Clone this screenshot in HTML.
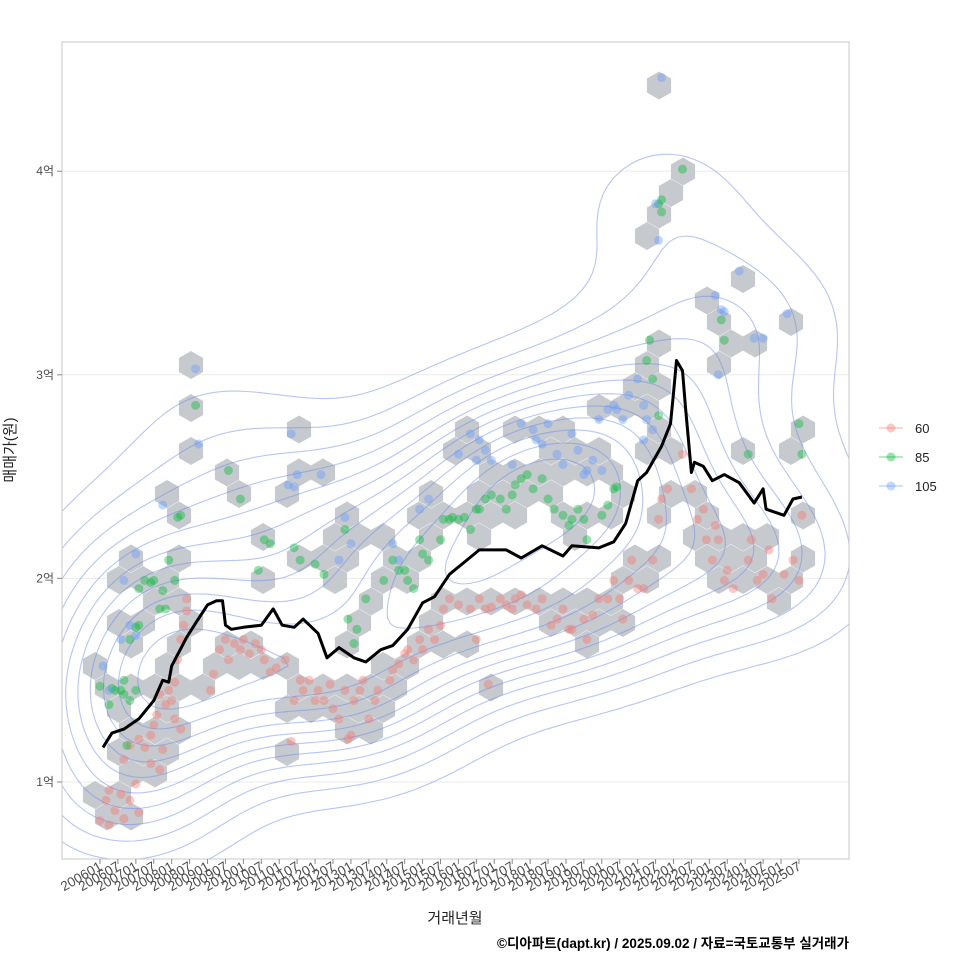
<!DOCTYPE html>
<html><head><meta charset="utf-8"><style>
body{margin:0;background:#fff;}
svg text{font-family:"Liberation Sans","Noto Sans CJK KR",sans-serif;}
</style></head><body>
<svg id="chart" width="960" height="960" xmlns="http://www.w3.org/2000/svg">
<defs><clipPath id="panelClip"><rect x="62" y="42" width="787" height="817"/></clipPath></defs>
<rect x="0" y="0" width="960" height="960" fill="#fff"/>
<g id="grid"></g>
<g id="hexes"></g>
<g id="contours" clip-path="url(#panelClip)"></g>
<g id="points"></g>
<g id="line"></g>
<rect x="62" y="42" width="787" height="817" fill="none" stroke="#c8c8c8" stroke-width="1"/>
<g id="axes"></g>
<text x="15" y="450" transform="rotate(-90 15 450)" text-anchor="middle" font-size="15" fill="#222">매매가(원)</text>
<text x="455" y="923" text-anchor="middle" font-size="15" fill="#222">거래년월</text>
<text x="849" y="948" text-anchor="end" font-size="13.5" font-weight="bold" fill="#000">©디아파트(dapt.kr) / 2025.09.02 / 자료=국토교통부 실거래가</text>
<g id="legend"></g>
</svg>
<script>
// ---- data ----
const yTicks=[1,2,3,4];
const yTickLabels=["1억","2억","3억","4억"];
const xTickMonths=[];for(let i=0;i<=234;i+=6)xTickMonths.push(i);
const lineMonths=[1,4,8,13,18,21,23,24,29,32,36,39,41,42,44,48,54,58,61,65,68,73,76,80,85,89,94,98,103,108,112,117,122,127,136,141,148,155,158,167,172,176,180,183,188,191,192,193,195,196,198,199,202,205,209,214,219,222,223,229,232,235];
const lineValues=[1.17,1.24,1.26,1.31,1.40,1.50,1.49,1.57,1.71,1.78,1.87,1.89,1.89,1.77,1.75,1.76,1.77,1.85,1.77,1.76,1.80,1.73,1.61,1.66,1.61,1.59,1.65,1.67,1.75,1.88,1.91,2.02,2.08,2.14,2.14,2.10,2.16,2.11,2.16,2.15,2.18,2.27,2.48,2.52,2.65,2.76,2.91,3.07,3.02,2.84,2.52,2.57,2.55,2.48,2.51,2.47,2.37,2.44,2.34,2.31,2.39,2.40];
const redM=[0,2,3,5,7,8,10,12,13,3,8,10,13,15,17,18,17,20,21,19,22,20,23,25,24,26,27,29,28,25,27,29,37,40,42,45,47,43,38,48,52,54,57,55,59,50,62,64,65,67,68,70,72,73,75,78,82,83,80,77,85,87,88,90,92,93,84,97,98,100,102,103,105,107,108,110,114,115,117,112,120,124,127,129,131,126,130,134,136,139,141,143,138,146,148,151,153,155,157,158,162,165,167,163,170,172,174,177,178,175,180,182,185,188,190,187,195,198,200,202,203,205,207,209,210,212,206,217,220,222,224,225,218,229,232,234,235];
const redV=[0.81,0.91,0.96,0.86,0.94,0.82,0.91,0.99,0.85,0.79,1.11,1.18,1.21,1.17,1.23,1.28,1.09,1.06,1.16,1.33,1.38,1.43,1.45,1.49,1.40,1.60,1.70,1.84,1.77,1.31,1.26,1.90,1.45,1.65,1.70,1.68,1.65,1.60,1.53,1.70,1.68,1.65,1.54,1.60,1.56,1.63,1.60,1.20,1.40,1.50,1.45,1.50,1.40,1.45,1.40,1.36,1.45,1.21,1.31,1.48,1.40,1.45,1.50,1.31,1.40,1.45,1.23,1.50,1.55,1.58,1.63,1.65,1.60,1.70,1.65,1.75,1.77,1.85,1.90,1.70,1.87,1.85,1.90,1.85,1.86,1.70,1.48,1.90,1.87,1.90,1.92,1.87,1.85,1.85,1.90,1.77,1.80,1.85,1.75,1.75,1.80,1.82,1.90,1.70,1.90,1.99,1.90,1.99,2.09,1.80,1.95,1.95,2.09,2.39,2.44,2.29,2.61,2.44,2.29,2.34,2.19,2.09,2.19,1.99,2.04,1.95,2.26,2.09,1.99,2.02,2.14,1.90,2.19,2.02,2.09,1.99,2.31];
const greenM=[0,3,5,7,8,10,9,12,8,4,10,12,13,15,17,18,20,22,23,25,26,27,21,13,32,43,47,55,57,53,65,67,72,75,82,83,85,86,89,95,98,100,102,103,105,107,108,110,114,115,117,118,120,122,126,127,129,131,124,134,136,138,139,141,143,145,148,150,152,155,157,158,160,162,163,168,170,172,173,183,184,185,187,187,188,188,195,209,208,217,234,235];
const greenV=[1.47,1.38,1.45,1.45,1.43,1.40,1.18,1.45,1.50,1.46,1.70,1.76,1.95,1.99,1.98,1.99,1.85,1.85,2.09,1.99,2.30,2.31,1.94,1.77,2.85,2.53,2.39,2.19,2.17,2.04,2.15,2.09,2.07,2.02,2.24,1.80,1.68,1.75,1.90,1.99,2.09,2.04,2.04,1.99,1.95,2.19,2.12,2.09,2.19,2.29,2.29,2.30,2.29,2.30,2.34,2.34,2.39,2.41,2.24,2.39,2.34,2.41,2.46,2.49,2.51,2.44,2.49,2.39,2.34,2.31,2.26,2.29,2.34,2.29,2.19,2.31,2.36,2.44,2.45,3.07,3.17,2.98,2.80,3.84,3.86,3.80,4.01,3.17,3.27,2.61,2.76,2.61];
const blueM=[1,3,7,10,12,8,12,21,32,33,64,63,65,66,74,82,80,84,98,100,107,110,120,124,127,129,131,126,138,141,145,146,148,150,153,155,158,160,162,163,165,167,168,170,172,173,175,177,180,182,183,185,182,187,188,186,206,208,209,207,214,219,222,230];
const blueV=[1.57,1.45,1.70,1.77,1.72,1.99,2.12,2.36,3.03,2.66,2.71,2.46,2.45,2.51,2.51,2.30,2.09,2.17,2.17,2.09,2.34,2.39,2.61,2.71,2.68,2.63,2.58,2.58,2.56,2.76,2.73,2.68,2.66,2.76,2.61,2.56,2.71,2.63,2.51,2.53,2.58,2.78,2.53,2.83,2.85,2.83,2.78,2.90,2.98,2.85,2.78,2.73,2.68,3.66,4.46,3.84,3.39,3.32,3.31,3.00,3.51,3.18,3.18,3.30];
const legendLabels=["60","85","105"];
// ---- scales ----
const NS="http://www.w3.org/2000/svg";
const X=m=>100+m*2.987;
const Y=v=>782-(v-1)*203.6;
function mk(tag,parent){const e=document.createElementNS(NS,tag);parent.appendChild(e);return e;}
const colors=["rgba(248,118,109,0.4)","rgba(0,186,56,0.4)","rgba(97,156,255,0.4)"];
const series=[[redM,redV],[greenM,greenV],[blueM,blueV]];
// grid
const grid=document.getElementById('grid');
yTicks.forEach(v=>{const l=mk('line',grid);l.setAttribute('x1',62);l.setAttribute('x2',849);l.setAttribute('y1',Y(v));l.setAttribute('y2',Y(v));l.setAttribute('stroke','#ebebeb');l.setAttribute('stroke-width',1);

});
// hexbins
const hexG=document.getElementById('hexes');
const HX0=191,HY0=365,DX=24,DY=21.5,R=14;
const cells=new Set();
series.forEach(([ms,vs])=>ms.forEach((m,i)=>{const px=X(m),py=Y(vs[i]);const r0=Math.round((py-HY0)/DY);let best=null,bd=1e9;
for(let r=r0-1;r<=r0+1;r++){const off=(Math.abs(r)%2)?DX/2:0;const c=Math.round((px-HX0-off)/DX);const cx=HX0+off+c*DX,cy=HY0+r*DY;const d=(cx-px)**2+(cy-py)**2;if(d<bd){bd=d;best=r+','+c;}}cells.add(best);}));
cells.forEach(k=>{const [r,c]=k.split(',').map(Number);const off=(Math.abs(r)%2)?DX/2:0;const cx=HX0+off+c*DX,cy=HY0+r*DY;let pts=[];for(let i=0;i<6;i++){const a=Math.PI/6+i*Math.PI/3;pts.push((cx+R*Math.cos(a)).toFixed(1)+','+(cy+R*Math.sin(a)).toFixed(1));}
const p=mk('polygon',hexG);p.setAttribute('points',pts.join(' '));p.setAttribute('fill','#c6c9cd');

});
// contours via KDE + marching squares
const allP=[];series.forEach(([ms,vs])=>ms.forEach((m,i)=>allP.push([X(m),Y(vs[i])])));
const gx0=62,gy0=42,st=8,NX=100,NY=104,hx=75,hy=55;
const D=[];let mx=0;
for(let j=0;j<=NY;j++){D[j]=[];for(let i=0;i<=NX;i++){const x=gx0+i*st,y=gy0+j*st;let s=0;for(const p of allP){const dx=(x-p[0])/hx,dy=(y-p[1])/hy;const q=dx*dx+dy*dy;if(q<14)s+=Math.exp(-q/2);}D[j][i]=s;if(s>mx)mx=s;}}
const cg=document.getElementById('contours');
for(let L=0;L<12;L++){const lv=mx*(0.1+L*0.075);let d='';
for(let j=0;j<NY;j++)for(let i=0;i<NX;i++){const a=D[j][i],b=D[j][i+1],c=D[j+1][i+1],e=D[j+1][i];const x=gx0+i*st,y=gy0+j*st;const pts=[];
const ed=[[a,b,x,y,x+st,y],[b,c,x+st,y,x+st,y+st],[e,c,x,y+st,x+st,y+st],[a,e,x,y,x,y+st]];
ed.forEach(([v1,v2,x1,y1,x2,y2])=>{if((v1<lv)!==(v2<lv)){const t=(lv-v1)/(v2-v1);pts.push([x1+t*(x2-x1),y1+t*(y2-y1)]);}});
for(let k=0;k+1<pts.length;k+=2)d+='M'+pts[k][0].toFixed(1)+' '+pts[k][1].toFixed(1)+'L'+pts[k+1][0].toFixed(1)+' '+pts[k+1][1].toFixed(1);}
const p=mk('path',cg);p.setAttribute('d',d);p.setAttribute('fill','none');p.setAttribute('stroke','rgba(110,140,235,0.5)');p.setAttribute('stroke-width','1.1');

}
// points
const pg=document.getElementById('points');
series.forEach(([ms,vs],s)=>ms.forEach((m,i)=>{const c=mk('circle',pg);c.setAttribute('cx',X(m));c.setAttribute('cy',Y(vs[i]));c.setAttribute('r',4.5);c.setAttribute('fill',colors[s]);

}));
// line
const lp=mk('path',document.getElementById('line'));
lp.setAttribute('d',lineMonths.map((m,i)=>(i?'L':'M')+X(m).toFixed(1)+' '+Y(lineValues[i]).toFixed(1)).join(''));
lp.setAttribute('fill','none');lp.setAttribute('stroke','#000');lp.setAttribute('stroke-width','3');lp.setAttribute('stroke-linejoin','round');


// axes
const ax=document.getElementById('axes');
yTicks.forEach((v,i)=>{const t=mk('text',ax);t.setAttribute('x',54);t.setAttribute('y',Y(v)+4);t.setAttribute('text-anchor','end');t.setAttribute('font-size','12');t.setAttribute('fill','#4d4d4d');t.textContent=yTickLabels[i];


const l=mk('line',ax);l.setAttribute('x1',57);l.setAttribute('x2',62);l.setAttribute('y1',Y(v));l.setAttribute('y2',Y(v));l.setAttribute('stroke','#888');

});
xTickMonths.forEach(m=>{const x=X(m);const l=mk('line',ax);l.setAttribute('x1',x);l.setAttribute('x2',x);l.setAttribute('y1',859);l.setAttribute('y2',864);l.setAttribute('stroke','#888');


const yr=2006+Math.floor(m/12),mo=(m%12)+1;const t=mk('text',ax);t.setAttribute('x',x+3);t.setAttribute('y',869);t.setAttribute('text-anchor','end');t.setAttribute('font-size','13.5');t.setAttribute('fill','#4d4d4d');t.setAttribute('transform','rotate(-30 '+(x+3)+' 869)');t.textContent=yr+(mo<10?'0':'')+mo;

});
// legend
const lg=document.getElementById('legend');
legendLabels.forEach((s,i)=>{const y=428+i*29;const l=mk('line',lg);l.setAttribute('x1',879);l.setAttribute('x2',903);l.setAttribute('y1',y);l.setAttribute('y2',y);l.setAttribute('stroke',colors[i]);l.setAttribute('stroke-width',1.5);


const c=mk('circle',lg);c.setAttribute('cx',891);c.setAttribute('cy',y);c.setAttribute('r',4.5);c.setAttribute('fill',colors[i]);


const t=mk('text',lg);t.setAttribute('x',915);t.setAttribute('y',y+5);t.setAttribute('font-size','13');t.setAttribute('fill','#222');t.textContent=s;

});
</script>
</body></html>
